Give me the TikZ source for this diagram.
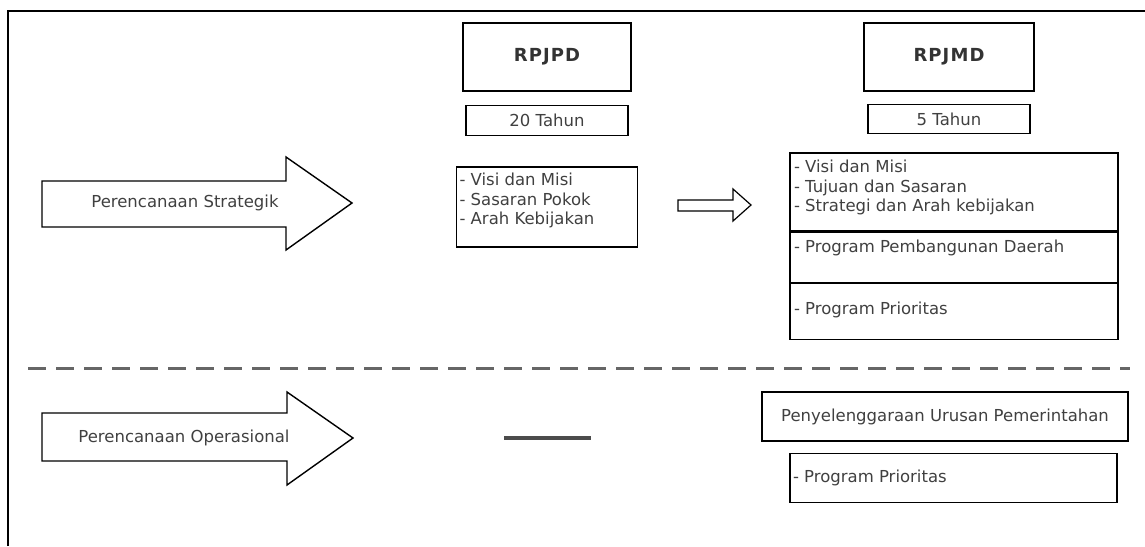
\documentclass[tikz,border=0pt]{standalone}
\usepackage{fontspec}
\setmainfont{DejaVu Sans}
\usetikzlibrary{calc, positioning}

\begin{document}
\begin{tikzpicture}[x=1pt, y=-1pt, line width=1.4pt,
        box/.style = {draw, rectangle, inner sep = 0pt},
        txt/.style = {font=\fontsize{16.5}{19.5}\selectfont, text=black!75, inner sep = 0pt},
        head/.style = {font=\fontsize{18}{20}\selectfont\bfseries\addfontfeature{LetterSpace=6}, text=black!80},
        bigarrow/.style = {draw, line join=miter}]
\useasboundingbox (0,0) rectangle (1145,546);

% frame
\draw (8,546) -- (8,11) -- (1145,11);

% left arrows
\draw [bigarrow] (42,181) -- (286,181) -- (286,157) -- (352,203) -- (286,250) -- (286,227) -- (42,227) -- cycle;
\node (strat) [txt] at (185,203) {Perencanaan Strategik};

\draw [bigarrow] (42,413) -- (287,413) -- (287,392) -- (353,438) -- (287,485) -- (287,461) -- (42,461) -- cycle;
\node (oper) [txt] at (184,438) {Perencanaan Operasional};

% RPJPD column
\node (rpjpd) [box, head, minimum width = 168, minimum height = 68] at (547,57) {RPJPD};
\node (tahun20) [box, txt, minimum width = 162, minimum height = 30, below = 13pt of rpjpd] {20 Tahun};
\node (pjlist) [box, minimum width = 181, minimum height = 80, below = 30pt of tahun20] {};
\node (pjtext) [txt, anchor = west, align = left] at ($(pjlist.west) + (3,-6)$) {- Visi dan Misi\\- Sasaran Pokok\\- Arah Kebijakan};

% hollow arrow
\draw [bigarrow, line width = 1.2pt] (678,200) -- (733,200) -- (733,189) -- (751,205) -- (733,221) -- (733,211) -- (678,211) -- cycle;

% RPJMD column
\node (rpjmd) [box, head, minimum width = 170, minimum height = 68] at (949,57) {RPJMD};
\node (tahun5) [box, txt, minimum width = 162, minimum height = 29, below = 12pt of rpjmd] {5 Tahun};
\node (mdvisi) [box, minimum width = 328, minimum height = 78, below = 18pt of tahun5, xshift = 5pt] {};
\node (mdprog) [box, minimum width = 328, minimum height = 50, below = 0pt of mdvisi] {};
\node (mdprior) [box, minimum width = 328, minimum height = 56, below = 0pt of mdprog] {};
\node (visitext) [txt, anchor = west, align = left] at ($(mdvisi.west) + (4,-4)$) {- Visi dan Misi\\- Tujuan dan Sasaran\\- Strategi dan Arah kebijakan};
\node (progtext) [txt, anchor = west] at ($(mdprog.west) + (4,-9)$) {- Program Pembangunan Daerah};
\node (priortext) [txt, anchor = west] at ($(mdprior.west) + (4,-2)$) {- Program Prioritas};

% separator
\draw [black!60, line width = 3pt, dash pattern = on 18pt off 10pt] (28,368) -- (1130,368);

% operational part
\draw [black!70, line width = 4pt] (504,438) -- (591,438);
\node (urusan) [box, txt, minimum width = 366, minimum height = 49] at (945,416.5) {Penyelenggaraan Urusan Pemerintahan};
\node (opprior) [box, minimum width = 327, minimum height = 49, below = 11pt of urusan, xshift = 8.5pt] {};
\node (opptext) [txt, anchor = west] at ($(opprior.west) + (3,0)$) {- Program Prioritas};
\end{tikzpicture}
\end{document}
